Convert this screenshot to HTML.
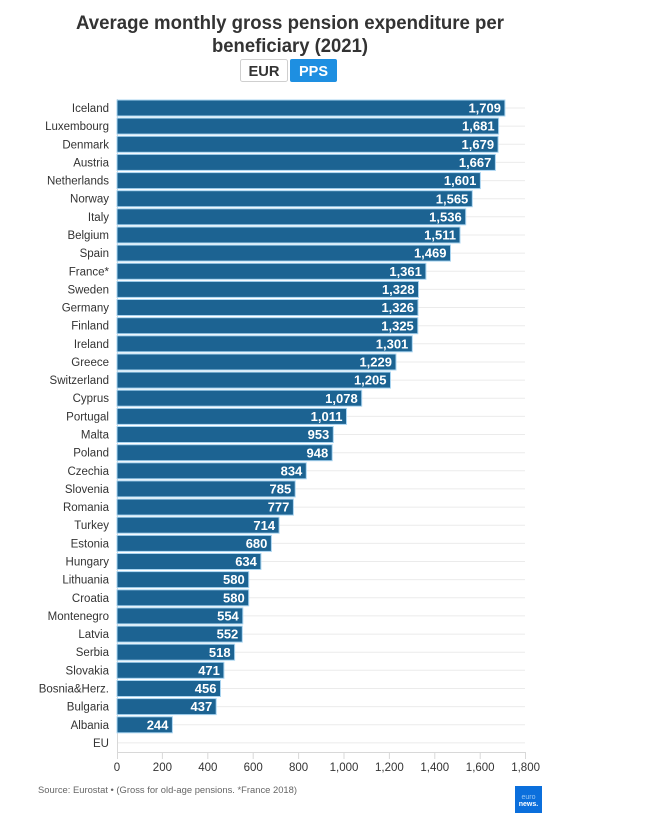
<!DOCTYPE html>
<html><head><meta charset="utf-8"><style>
html,body{margin:0;padding:0;background:#fff;}
svg{display:block;font-family:"Liberation Sans",sans-serif;}
</style></head><body>
<svg width="669" height="824" viewBox="0 0 669 824" xmlns="http://www.w3.org/2000/svg">
<rect width="669" height="824" fill="#fff"/>
<text x="290" y="29" text-anchor="middle" font-size="19" font-weight="bold" fill="#333" textLength="428" lengthAdjust="spacingAndGlyphs">Average monthly gross pension expenditure per</text>
<text x="290" y="52" text-anchor="middle" font-size="19" font-weight="bold" fill="#333" textLength="156" lengthAdjust="spacingAndGlyphs">beneficiary (2021)</text>
<rect x="240.5" y="59.5" width="47" height="22" rx="2" fill="#fff" stroke="#cfcfcf"/>
<text x="264" y="76" text-anchor="middle" font-size="15" font-weight="bold" fill="#333" textLength="31" lengthAdjust="spacingAndGlyphs">EUR</text>
<rect x="290" y="59" width="47" height="23" rx="2" fill="#1e8fe1"/>
<text x="313.5" y="76" text-anchor="middle" font-size="15" font-weight="bold" fill="#fff" textLength="29" lengthAdjust="spacingAndGlyphs">PPS</text>

<g stroke="#ebebeb" stroke-width="1">
<line x1="117" x2="525" y1="108" y2="108"/><line x1="117" x2="525" y1="126.1" y2="126.1"/><line x1="117" x2="525" y1="144.3" y2="144.3"/><line x1="117" x2="525" y1="162.4" y2="162.4"/><line x1="117" x2="525" y1="180.6" y2="180.6"/><line x1="117" x2="525" y1="198.7" y2="198.7"/><line x1="117" x2="525" y1="216.8" y2="216.8"/><line x1="117" x2="525" y1="235" y2="235"/><line x1="117" x2="525" y1="253.1" y2="253.1"/><line x1="117" x2="525" y1="271.3" y2="271.3"/><line x1="117" x2="525" y1="289.4" y2="289.4"/><line x1="117" x2="525" y1="307.5" y2="307.5"/><line x1="117" x2="525" y1="325.7" y2="325.7"/><line x1="117" x2="525" y1="343.8" y2="343.8"/><line x1="117" x2="525" y1="362" y2="362"/><line x1="117" x2="525" y1="380.1" y2="380.1"/><line x1="117" x2="525" y1="398.2" y2="398.2"/><line x1="117" x2="525" y1="416.4" y2="416.4"/><line x1="117" x2="525" y1="434.5" y2="434.5"/><line x1="117" x2="525" y1="452.7" y2="452.7"/><line x1="117" x2="525" y1="470.8" y2="470.8"/><line x1="117" x2="525" y1="488.9" y2="488.9"/><line x1="117" x2="525" y1="507.1" y2="507.1"/><line x1="117" x2="525" y1="525.2" y2="525.2"/><line x1="117" x2="525" y1="543.4" y2="543.4"/><line x1="117" x2="525" y1="561.5" y2="561.5"/><line x1="117" x2="525" y1="579.6" y2="579.6"/><line x1="117" x2="525" y1="597.8" y2="597.8"/><line x1="117" x2="525" y1="615.9" y2="615.9"/><line x1="117" x2="525" y1="634.1" y2="634.1"/><line x1="117" x2="525" y1="652.2" y2="652.2"/><line x1="117" x2="525" y1="670.3" y2="670.3"/><line x1="117" x2="525" y1="688.5" y2="688.5"/><line x1="117" x2="525" y1="706.6" y2="706.6"/><line x1="117" x2="525" y1="724.8" y2="724.8"/><line x1="117" x2="525" y1="742.9" y2="742.9"/>
</g>
<g stroke="#d8d8d8" stroke-width="1">
<line x1="117.5" x2="117.5" y1="99" y2="753"/>
<line x1="117" x2="526" y1="752.5" y2="752.5"/>
<line x1="117.5" x2="117.5" y1="752" y2="759"/><line x1="162.4" x2="162.4" y1="752" y2="759"/><line x1="207.8" x2="207.8" y1="752" y2="759"/><line x1="253.2" x2="253.2" y1="752" y2="759"/><line x1="298.6" x2="298.6" y1="752" y2="759"/><line x1="344" x2="344" y1="752" y2="759"/><line x1="389.4" x2="389.4" y1="752" y2="759"/><line x1="434.8" x2="434.8" y1="752" y2="759"/><line x1="480.2" x2="480.2" y1="752" y2="759"/><line x1="525.5" x2="525.5" y1="752" y2="759"/>
</g>

<g transform="translate(117,0)" fill="#1c6392" stroke="#a9d4f0" stroke-width="1">
<rect x="0" y="100" width="387.9" height="16"/>
<rect x="0" y="118.1" width="381.6" height="16"/>
<rect x="0" y="136.3" width="381.1" height="16"/>
<rect x="0" y="154.4" width="378.4" height="16"/>
<rect x="0" y="172.6" width="363.4" height="16"/>
<rect x="0" y="190.7" width="355.3" height="16"/>
<rect x="0" y="208.8" width="348.7" height="16"/>
<rect x="0" y="227" width="343" height="16"/>
<rect x="0" y="245.1" width="333.5" height="16"/>
<rect x="0" y="263.3" width="308.9" height="16"/>
<rect x="0" y="281.4" width="301.5" height="16"/>
<rect x="0" y="299.5" width="301" height="16"/>
<rect x="0" y="317.7" width="300.8" height="16"/>
<rect x="0" y="335.8" width="295.3" height="16"/>
<rect x="0" y="354" width="279" height="16"/>
<rect x="0" y="372.1" width="273.5" height="16"/>
<rect x="0" y="390.2" width="244.7" height="16"/>
<rect x="0" y="408.4" width="229.5" height="16"/>
<rect x="0" y="426.5" width="216.3" height="16"/>
<rect x="0" y="444.7" width="215.2" height="16"/>
<rect x="0" y="462.8" width="189.3" height="16"/>
<rect x="0" y="480.9" width="178.2" height="16"/>
<rect x="0" y="499.1" width="176.4" height="16"/>
<rect x="0" y="517.2" width="162.1" height="16"/>
<rect x="0" y="535.4" width="154.4" height="16"/>
<rect x="0" y="553.5" width="143.9" height="16"/>
<rect x="0" y="571.6" width="131.7" height="16"/>
<rect x="0" y="589.8" width="131.7" height="16"/>
<rect x="0" y="607.9" width="125.8" height="16"/>
<rect x="0" y="626.1" width="125.3" height="16"/>
<rect x="0" y="644.2" width="117.6" height="16"/>
<rect x="0" y="662.3" width="106.9" height="16"/>
<rect x="0" y="680.5" width="103.5" height="16"/>
<rect x="0" y="698.6" width="99.2" height="16"/>
<rect x="0" y="716.8" width="55.4" height="16"/>
</g>

<g transform="translate(117,0)" fill="#fff" font-size="13" font-weight="bold" text-anchor="end">
<text x="384" y="112.6">1,709</text>
<text x="377.6" y="130.7">1,681</text>
<text x="377.1" y="148.9">1,679</text>
<text x="374.4" y="167">1,667</text>
<text x="359.4" y="185.2">1,601</text>
<text x="351.3" y="203.3">1,565</text>
<text x="344.7" y="221.4">1,536</text>
<text x="339" y="239.6">1,511</text>
<text x="329.5" y="257.7">1,469</text>
<text x="304.9" y="275.9">1,361</text>
<text x="297.5" y="294">1,328</text>
<text x="297" y="312.1">1,326</text>
<text x="296.8" y="330.3">1,325</text>
<text x="291.3" y="348.4">1,301</text>
<text x="275" y="366.6">1,229</text>
<text x="269.5" y="384.7">1,205</text>
<text x="240.7" y="402.8">1,078</text>
<text x="225.5" y="421">1,011</text>
<text x="212.3" y="439.1">953</text>
<text x="211.2" y="457.3">948</text>
<text x="185.3" y="475.4">834</text>
<text x="174.2" y="493.5">785</text>
<text x="172.4" y="511.7">777</text>
<text x="158.1" y="529.8">714</text>
<text x="150.4" y="548">680</text>
<text x="139.9" y="566.1">634</text>
<text x="127.7" y="584.2">580</text>
<text x="127.7" y="602.4">580</text>
<text x="121.8" y="620.5">554</text>
<text x="121.3" y="638.7">552</text>
<text x="113.6" y="656.8">518</text>
<text x="102.9" y="674.9">471</text>
<text x="99.5" y="693.1">456</text>
<text x="95.2" y="711.2">437</text>
<text x="51.4" y="729.4">244</text>
</g>

<g fill="#333" font-size="11.5" text-anchor="end">
<text x="109" y="112">Iceland</text>
<text x="109" y="130.1">Luxembourg</text>
<text x="109" y="148.3">Denmark</text>
<text x="109" y="166.4">Austria</text>
<text x="109" y="184.6">Netherlands</text>
<text x="109" y="202.7">Norway</text>
<text x="109" y="220.8">Italy</text>
<text x="109" y="239">Belgium</text>
<text x="109" y="257.1">Spain</text>
<text x="109" y="275.3">France*</text>
<text x="109" y="293.4">Sweden</text>
<text x="109" y="311.5">Germany</text>
<text x="109" y="329.7">Finland</text>
<text x="109" y="347.8">Ireland</text>
<text x="109" y="366">Greece</text>
<text x="109" y="384.1">Switzerland</text>
<text x="109" y="402.2">Cyprus</text>
<text x="109" y="420.4">Portugal</text>
<text x="109" y="438.5">Malta</text>
<text x="109" y="456.7">Poland</text>
<text x="109" y="474.8">Czechia</text>
<text x="109" y="492.9">Slovenia</text>
<text x="109" y="511.1">Romania</text>
<text x="109" y="529.2">Turkey</text>
<text x="109" y="547.4">Estonia</text>
<text x="109" y="565.5">Hungary</text>
<text x="109" y="583.6">Lithuania</text>
<text x="109" y="601.8">Croatia</text>
<text x="109" y="619.9">Montenegro</text>
<text x="109" y="638.1">Latvia</text>
<text x="109" y="656.2">Serbia</text>
<text x="109" y="674.3">Slovakia</text>
<text x="109" y="692.5">Bosnia&amp;Herz.</text>
<text x="109" y="710.6">Bulgaria</text>
<text x="109" y="728.8">Albania</text>
<text x="109" y="746.9">EU</text>
</g>

<g fill="#333" font-size="11.5" text-anchor="middle">
<text x="117" y="771">0</text>
<text x="162.4" y="771">200</text>
<text x="207.8" y="771">400</text>
<text x="253.2" y="771">600</text>
<text x="298.6" y="771">800</text>
<text x="344" y="771">1,000</text>
<text x="389.4" y="771">1,200</text>
<text x="434.8" y="771">1,400</text>
<text x="480.2" y="771">1,600</text>
<text x="525.6" y="771">1,800</text>
</g>

<text x="38" y="793" font-size="9" fill="#666" textLength="259" lengthAdjust="spacingAndGlyphs">Source: Eurostat • (Gross for old-age pensions. *France 2018)</text>

<rect x="515" y="786" width="27" height="27" fill="#0b6fdc"/>
<text x="528.5" y="799" font-size="7" fill="#9cc8f5" text-anchor="middle">euro</text>
<text x="528.5" y="806" font-size="7" fill="#fff" font-weight="bold" text-anchor="middle">news.</text>
</svg>
</body></html>
